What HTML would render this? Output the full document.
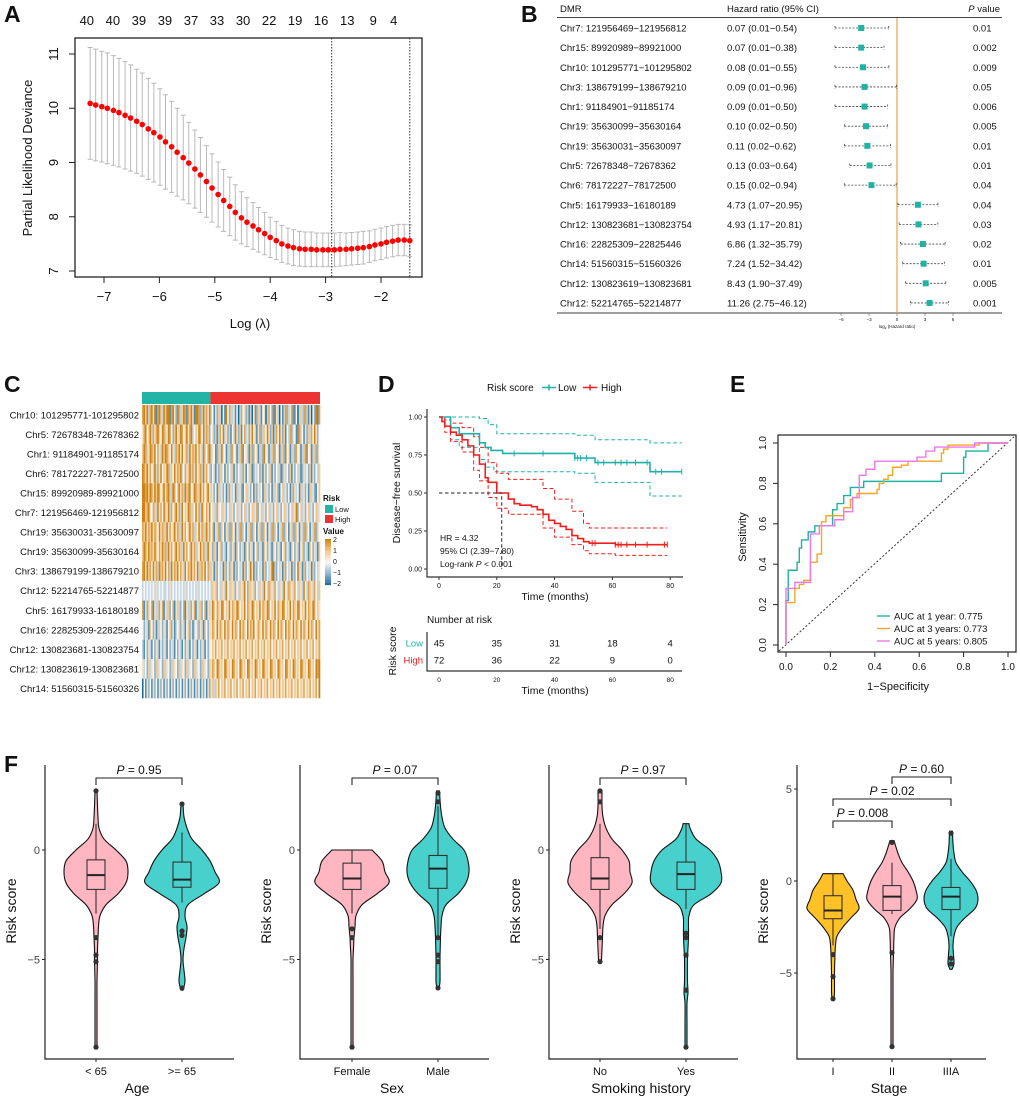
<!DOCTYPE html>
<html><head><meta charset="utf-8"><title>Figure</title>
<style>
html,body{margin:0;padding:0;background:#fff;}
svg{display:block;font-family:"Liberation Sans",Arial,sans-serif;}
text{fill:#111;}
</style></head>
<body>
<svg id="fig" xmlns="http://www.w3.org/2000/svg" width="1020" height="1100" viewBox="0 0 1020 1100">
<rect x="0" y="0" width="1020" height="1100" fill="#fff"/>
<g font-weight="bold" font-size="23">
<text x="4" y="22">A</text>
<text x="521" y="22">B</text>
<text x="4" y="392">C</text>
<text x="378" y="392">D</text>
<text x="730" y="392">E</text>
<text x="4" y="772">F</text>
</g>
<g id="pA"></g>
<g id="pB"></g>
<g id="pC"></g>
<g id="pD"></g>
<g id="pE"></g>
<g id="pF"></g>
</svg>
<script>
// ---------- Panel A data ----------
const aLambda=[-7.25,-7.15,-7.04,-6.94,-6.83,-6.73,-6.62,-6.52,-6.41,-6.31,-6.20,-6.10,-5.99,-5.89,-5.78,-5.68,-5.57,-5.47,-5.36,-5.26,-5.15,-5.05,-4.94,-4.84,-4.73,-4.63,-4.52,-4.42,-4.31,-4.21,-4.10,-4.00,-3.89,-3.79,-3.68,-3.58,-3.47,-3.37,-3.26,-3.16,-3.05,-2.95,-2.84,-2.74,-2.63,-2.53,-2.42,-2.32,-2.21,-2.11,-2.00,-1.90,-1.79,-1.69,-1.58,-1.48];
const aDev=[10.09,10.06,10.03,10.00,9.96,9.92,9.87,9.82,9.76,9.70,9.62,9.55,9.47,9.38,9.29,9.19,9.09,8.99,8.88,8.77,8.65,8.53,8.41,8.30,8.19,8.08,7.98,7.90,7.83,7.76,7.69,7.62,7.56,7.50,7.46,7.43,7.41,7.40,7.40,7.39,7.39,7.39,7.39,7.40,7.40,7.41,7.42,7.43,7.45,7.48,7.50,7.53,7.55,7.57,7.57,7.56];
const aSE=[1.03,1.03,1.02,1.02,1.01,1.00,0.99,0.98,0.96,0.95,0.93,0.91,0.89,0.87,0.84,0.81,0.78,0.75,0.72,0.69,0.66,0.63,0.60,0.57,0.54,0.51,0.48,0.45,0.43,0.41,0.39,0.37,0.35,0.34,0.33,0.33,0.32,0.32,0.32,0.31,0.31,0.31,0.31,0.31,0.30,0.30,0.30,0.30,0.29,0.29,0.29,0.29,0.29,0.29,0.29,0.29];
const aTopN=[40,40,39,39,37,33,30,22,19,16,13,9,4];
const aTopLambda=[-7.31,-6.84,-6.37,-5.90,-5.43,-4.96,-4.49,-4.02,-3.55,-3.08,-2.61,-2.14,-1.77];
const aXTicks=[-7,-6,-5,-4,-3,-2];
const aYTicks=[7,8,9,10,11];
const aCutoffs=[-2.89,-1.48];
// ---------- Panel B data ----------
const bDMR=["Chr7: 121956469\u2212121956812","Chr15: 89920989\u221289921000","Chr10: 101295771\u2212101295802","Chr3: 138679199\u2212138679210","Chr1: 91184901\u221291185174","Chr19: 35630099\u221235630164","Chr19: 35630031\u221235630097","Chr5: 72678348\u221272678362","Chr6: 78172227\u221278172500","Chr5: 16179933\u221216180189","Chr12: 130823681\u2212130823754","Chr16: 22825309\u221222825446","Chr14: 51560315\u221251560326","Chr12: 130823619\u2212130823681","Chr12: 52214765\u221252214877"];
const bHR=[0.07,0.07,0.08,0.09,0.09,0.10,0.11,0.13,0.15,4.73,4.93,6.86,7.24,8.43,11.26];
const bLo=[0.01,0.01,0.01,0.01,0.01,0.02,0.02,0.03,0.02,1.07,1.17,1.32,1.52,1.90,2.75];
const bHi=[0.54,0.38,0.55,0.96,0.50,0.50,0.62,0.64,0.94,20.95,20.81,35.79,34.42,37.49,46.12];
const bP=["0.01","0.002","0.009","0.05","0.006","0.005","0.01","0.01","0.04","0.04","0.03","0.02","0.01","0.005","0.001"];
const bTicks=[-6,-3,0,3,6];
// ---------- Panel C data ----------
const cRows=["Chr10: 101295771-101295802","Chr5: 72678348-72678362","Chr1: 91184901-91185174","Chr6: 78172227-78172500","Chr15: 89920989-89921000","Chr7: 121956469-121956812","Chr19: 35630031-35630097","Chr19: 35630099-35630164","Chr3: 138679199-138679210","Chr12: 52214765-52214877","Chr5: 16179933-16180189","Chr16: 22825309-22825446","Chr12: 130823681-130823754","Chr12: 130823619-130823681","Chr14: 51560315-51560326"];
const cGroupCounts=[45,72];
const cGroupNames=["Low","High"];
const cValues=[
"786837858178638 688178528736871 768518872683758 341526304184263 514037452613048 263145037428153 041627352814036 372615042817",
"578468375786487 358742685387468 578346587483762 452613748352614 385261473525846 152736485261374 852614372541826 415263748524",
"687358768475386 876485376858467 385768475386478 354126385413627 451362845316274 513628451362745 136284513627451 362845136274",
"876857468375846 587364857683475 683758467385746 243152634152436 152436251436125 342615243615243 612534261524361 253426152436",
"887868758687468 578368746857386 784587368574685 352416352416253 416352146352416 253416352416352 146352416253416 352416352146",
"886785476385748 658374685738465 873648573864758 453625463524635 246352463524635 724635246352463 524635246358246 352463524635",
"768576857648576 385746857638574 685736485763857 461537264153726 415372641537264 153726415372641 537264153726415 372641537264",
"687586758647586 738574685763857 468573648576385 526314625314625 316425316425314 625316425316425 314625316425314 625316425316",
"785867485738675 847385768475384 768574836758476 351624351624735 162435162438516 243516243581624 351624351624835 162435162435",
"343434343534343 343534343434353 434343534343434 365374365384365 374365384736537 436538437653743 653843765374365 384376537436",
"715264715362471 536247153624715 362471536247153 586476587465847 658746584765874 658476587465847 658746584765874 658476587465",
"425316425136425 314625134625314 625134625316425 576485764857648 576485764857684 576485764857648 576485764857648 576485764857",
"314253142531425 314253142531425 314253142531425 465746574657465 746574657465746 574657465746574 657465746574657 465746574657",
"534263542635426 354263542635426 354263542635426 576487564875648 756487564875648 756487564875648 756487564875648 756487564878",
"041524152415241 524152415241524 152415241524152 563657465746574 657465746574657 465746574657465 746574657465746 574657465748"];
const cLegendTicks=[2,1,0,-1,-2];
// ---------- Panel D data ----------
const dLowT=[0,4,7,14,16,18,22,47,54,73], dLowS=[1,0.93,0.89,0.83,0.80,0.78,0.76,0.73,0.70,0.64];
const dLowUpT=[0,14,17,20,47,54,73], dLowUpS=[1,0.99,0.95,0.89,0.88,0.85,0.83];
const dLowLoT=[0,4,7,14,16,19,47,54,73], dLowLoS=[1,0.85,0.80,0.72,0.67,0.64,0.63,0.57,0.48];
const dLowEnd=84;
const dHighT=[0,1,2,4,6,8,10,12,14,16,17,20,24,26,28,32,34,36,38,40,42,44,46,48,50,52,61];
const dHighS=[1,0.97,0.94,0.90,0.88,0.85,0.81,0.75,0.69,0.60,0.57,0.50,0.46,0.43,0.42,0.41,0.39,0.36,0.32,0.30,0.28,0.26,0.22,0.20,0.18,0.17,0.16];
const dHighUpT=[0,2,4,8,12,14,17,20,24,36,40,46,50,52], dHighUpS=[1,0.98,0.96,0.93,0.87,0.80,0.70,0.63,0.59,0.53,0.46,0.38,0.30,0.27];
const dHighLoT=[0,2,4,8,12,14,17,20,24,36,40,46,50,52,61], dHighLoS=[1,0.90,0.84,0.77,0.65,0.58,0.47,0.40,0.36,0.27,0.21,0.16,0.12,0.10,0.09];
const dHighEnd=79;
const dLowCens=[26,36,47,48,49,51,55,57,61,63,65,68,72,75,77,84];
const dHighCens=[53,54,61,62,63,65,68,72,78,79];
const dMedian=21.7;
const dXTicks=[0,20,40,60,80];
const dYTicks=[0,0.25,0.5,0.75,1];
const dRiskLow=[45,35,31,18,4];
const dRiskHigh=[72,36,22,9,0];
// ---------- Panel E data ----------
const eTealX=[0,0,0.01,0.01,0.05,0.05,0.06,0.06,0.07,0.07,0.10,0.10,0.13,0.13,0.21,0.21,0.23,0.23,0.26,0.26,0.29,0.29,0.35,0.35,0.70,0.70,0.80,0.80,0.81,0.81,0.91,0.91,1];
const eTealY=[0,0.22,0.22,0.37,0.37,0.41,0.41,0.48,0.48,0.52,0.52,0.56,0.56,0.59,0.59,0.67,0.67,0.70,0.70,0.74,0.74,0.78,0.78,0.81,0.81,0.85,0.85,0.93,0.93,0.96,0.96,1,1];
const eOrX=[0,0,0.04,0.04,0.06,0.06,0.08,0.08,0.11,0.11,0.14,0.14,0.16,0.16,0.18,0.18,0.26,0.26,0.29,0.29,0.30,0.30,0.32,0.32,0.41,0.41,0.42,0.42,0.44,0.44,0.46,0.46,0.48,0.48,0.52,0.52,0.55,0.55,0.70,0.70,0.71,0.71,0.73,0.73,0.87,0.87,1];
const eOrY=[0,0.21,0.21,0.28,0.28,0.30,0.30,0.32,0.32,0.41,0.41,0.45,0.45,0.61,0.61,0.64,0.64,0.68,0.68,0.72,0.72,0.73,0.73,0.75,0.75,0.77,0.77,0.80,0.80,0.82,0.82,0.84,0.84,0.88,0.88,0.89,0.89,0.91,0.91,0.95,0.95,0.97,0.97,0.99,0.99,1,1];
const ePkX=[0,0,0.04,0.04,0.11,0.11,0.15,0.15,0.22,0.22,0.26,0.26,0.30,0.30,0.33,0.33,0.36,0.36,0.40,0.40,0.59,0.59,0.63,0.63,0.67,0.67,0.85,0.85,1];
const ePkY=[0,0.28,0.28,0.31,0.31,0.55,0.55,0.59,0.59,0.62,0.62,0.66,0.66,0.73,0.73,0.84,0.84,0.87,0.87,0.91,0.91,0.93,0.93,0.96,0.96,0.98,0.98,1,1];
const eLegend=["AUC at 1 year: 0.775","AUC at 3 years: 0.773","AUC at 5 years: 0.805"];
const eTicks=[0,0.2,0.4,0.6,0.8,1.0];
// ---------- Panel F data (densities: [value, half-width]) ----------
const fDensLt65=[[2.7,1],[2,1.5],[1.5,2],[1,3],[0.5,8],[0,20],[-0.5,30],[-1,32],[-1.5,30],[-2,22],[-2.5,10],[-3,4],[-3.5,2.5],[-4,2],[-4.5,1.5],[-5,1.5],[-6,1],[-7,1],[-8,1],[-9,1]];
const fDensGe65=[[2.1,1],[1.5,2],[1,5],[0.5,10],[0,20],[-0.5,28],[-1,33],[-1.5,37],[-2,22],[-2.5,6],[-3,3],[-3.5,5],[-4,4],[-4.5,2],[-5,1],[-5.5,2],[-6,3],[-6.4,1]];
const fDensFemale=[[0,20],[-0.5,30],[-1,33],[-1.5,37],[-2,25],[-2.5,10],[-3,4],[-3.5,3],[-4,2],[-4.5,1.5],[-5,1],[-6,1],[-7,1],[-8,1],[-9,1]];
const fDensMale=[[2.7,1.5],[2,2.5],[1.5,4],[1,7],[0.5,15],[0,26],[-0.5,30],[-1,31],[-1.5,28],[-2,20],[-2.5,8],[-3,4],[-3.5,3],[-4,2.5],[-5,2],[-6,2],[-6.3,1]];
const fDensNo=[[2.7,2],[2,2],[1.5,3],[1,6],[0.5,12],[0,22],[-0.5,29],[-1,30],[-1.5,32],[-2,24],[-2.5,12],[-3,5],[-3.5,3],[-4,2.5],[-4.5,2],[-5,1.5],[-5.1,1]];
const fDensYes=[[1.2,3],[1,4],[0.5,10],[0,24],[-0.5,32],[-1,35],[-1.5,35],[-2,25],[-2.5,8],[-3,3],[-3.5,2.5],[-4,2.5],[-5,1.5],[-6,1.5],[-6.5,2],[-7,1],[-8,1],[-9,1]];
const fDensI=[[0.4,10],[0,14],[-0.5,20],[-1,23],[-1.5,26],[-2,18],[-2.5,10],[-3,4],[-3.5,2.5],[-4,2],[-5,1.5],[-6,1.5],[-6.4,1]];
const fDensII=[[2.2,2],[1.5,6],[1,10],[0.5,16],[0,21],[-0.5,24],[-1,25],[-1.5,18],[-2,8],[-2.5,3],[-3,2],[-4,1.5],[-5,1],[-7,1],[-9,1]];
const fDensIIIA=[[2.7,1.5],[2,2],[1.5,3],[1,5],[0.5,11],[0,19],[-0.5,25],[-1,27],[-1.5,24],[-2,14],[-2.5,6],[-3,3],[-3.5,2],[-4,2.5],[-4.5,3],[-4.8,1]];
// box stats: [whiskerLow, q1, median, q3, whiskerHigh]
const fBoxLt65=[-2.9,-1.8,-1.15,-0.45,1.2], fOutLt65=[2.7,-4,-4.8,-5.1,-9];
const fBoxGe65=[-2.4,-1.7,-1.35,-0.55,0.8], fOutGe65=[2.1,-3.7,-3.9,-6.3];
const fBoxFemale=[-2.9,-1.8,-1.3,-0.6,0], fOutFemale=[-3.6,-4,-9];
const fBoxMale=[-3.9,-1.75,-0.85,-0.25,2.0], fOutMale=[2.6,2.2,-4,-4.8,-5.1,-6.3];
const fBoxNo=[-3.6,-1.8,-1.3,-0.35,1.2], fOutNo=[2.7,2.2,-4,-5.1];
const fBoxYes=[-2.7,-1.8,-1.1,-0.55,1.2], fOutYes=[-3.8,-4,-4.8,-6.4,-9];
const fBoxI=[-3.5,-2.05,-1.6,-0.8,0.4], fOutI=[-4,-5.2,-6.4];
const fBoxII=[-1.8,-1.6,-0.85,-0.25,1.0], fOutII=[2.1,-3.9,-9];
const fBoxIIIA=[-3,-1.55,-0.85,-0.35,1.2], fOutIIIA=[2.6,-4.2,-4.5];
const fTitles=["Age","Sex","Smoking history","Stage"];
const fCats=[["< 65",">= 65"],["Female","Male"],["No","Yes"],["I","II","IIIA"]];
const fPvals=[["0.95"],["0.07"],["0.97"],["0.008","0.02","0.60"]];

// ---------- helpers ----------
const NS='http://www.w3.org/2000/svg';
function mk(tag,attrs,parent){const e=document.createElementNS(NS,tag);for(const k in attrs)e.setAttribute(k,attrs[k]);parent.appendChild(e);return e;}
function tx(s,x,y,size,anchor,parent,extra){const e=mk('text',Object.assign({x:x,y:y,'font-size':size,'text-anchor':anchor||'start'},extra||{}),parent);e.textContent=s;return e;}
function stepPath(xs,ys,xf,yf,end){let d='M'+xf(xs[0])+','+yf(ys[0]);for(let i=1;i<xs.length;i++){d+='H'+xf(xs[i])+'V'+yf(ys[i]);}d+='H'+xf(end);return d;}

// ================= Panel A =================
(function(){
const g=document.getElementById('pA');
const xA=v=>104+(v+7)*55.4, yA=v=>271-(v-7)*54.25;
const box=mk('rect',{x:75,y:38,width:347,height:239,fill:'none',stroke:'#222','stroke-width':1.3},g);


aXTicks.forEach(v=>{
 const l=mk('line',{x1:xA(v),x2:xA(v),y1:277,y2:283,stroke:'#222'},g);
 
 
 const t=tx(String(v).replace('-','\u2212'),xA(v),301,13,'middle',g);
 
 
});
aYTicks.forEach(v=>{
 const l=mk('line',{x1:69,x2:75,y1:yA(v),y2:yA(v),stroke:'#222'},g);
 
 
 const t=tx(String(v),58,yA(v),13,'middle',g,{transform:'rotate(-90 58 '+yA(v)+')'});
 
 
});
aTopN.forEach((n,i)=>{
 const t=tx(String(n),xA(aTopLambda[i]),25,13,'middle',g);
 
 
});
const yl=tx('Partial Likelihood Deviance',32,158,13,'middle',g,{transform:'rotate(-90 32 158)'});


const xl=tx('Log (\u03bb)',250,328,13,'middle',g);


aLambda.forEach((lam,i)=>{
 const x=xA(lam),hi=yA(aDev[i]+aSE[i]),lo=yA(aDev[i]-aSE[i]);
 const e=mk('path',{d:'M'+x+','+hi+'V'+lo+'M'+(x-2.5)+','+hi+'H'+(x+2.5)+'M'+(x-2.5)+','+lo+'H'+(x+2.5),stroke:'#b9b9b9','stroke-width':1,fill:'none'},g);
 
 
});
aCutoffs.forEach(v=>{
 const l=mk('line',{x1:xA(v),x2:xA(v),y1:38,y2:277,stroke:'#333','stroke-dasharray':'1.5 1.5','stroke-width':1},g);
 
 
});
aLambda.forEach((lam,i)=>{
 const c=mk('circle',{cx:xA(lam),cy:yA(aDev[i]),r:2.8,fill:'#f00'},g);
 
 
});
})();

// ================= Panel B =================
(function(){
const g=document.getElementById('pB');
const xB=v=>897+Math.log2(v)*9.33, xL=v=>897+v*9.33;
const rowY=i=>28+i*19.64;
const h1=tx('DMR',560,12,9.5,'start',g);


const h2=tx('Hazard ratio (95% CI)',727,12,9.5,'start',g);


const h3=mk('text',{x:1000,y:12,'font-size':9.5,'text-anchor':'end'},g);
h3.innerHTML='<tspan font-style="italic">P</tspan> value';


const l1=mk('line',{x1:557,x2:1002,y1:17.5,y2:17.5,stroke:'#444','stroke-width':1},g);


const l2=mk('line',{x1:557,x2:1002,y1:313,y2:313,stroke:'#666','stroke-width':1.2},g);


const ref=mk('line',{x1:897,x2:897,y1:18,y2:313,stroke:'#E6A83C','stroke-width':1.2},g);


bDMR.forEach((lab,i)=>{
 const y=rowY(i);
 const a=tx(lab,560,y+3.5,9.5,'start',g);
 
 
 const b=tx(bHR[i].toFixed(2)+' ('+bLo[i].toFixed(2)+'\u2212'+bHi[i].toFixed(2)+')',727,y+3.5,9.5,'start',g);
 
 
 const c=tx(bP[i],973,y+3.5,9.5,'start',g);
 
 
 const ci=mk('path',{d:'M'+xB(bLo[i])+','+y+'H'+xB(bHi[i])+'M'+xB(bLo[i])+','+(y-2)+'V'+(y+2)+'M'+xB(bHi[i])+','+(y-2)+'V'+(y+2),stroke:'#444','stroke-width':0.8,'stroke-dasharray':'2 1.5',fill:'none'},g);
 
 
 const sq=mk('rect',{x:xB(bHR[i])-3,y:y-3,width:6,height:6,fill:'#22B2A4'},g);
 
 
});
bTicks.forEach(v=>{
 const l=mk('line',{x1:xL(v),x2:xL(v),y1:313,y2:316,stroke:'#666','stroke-width':0.6},g);
 
 
 const t=tx(String(v).replace('-','\u2212'),xL(v),321,4.5,'middle',g);
 
 
});
const at=mk('text',{x:897,y:328,'font-size':4.5,'text-anchor':'middle'},g);
at.innerHTML='log<tspan font-size="3" dy="1">2</tspan><tspan dy="-1"> (Hazard ratio)</tspan>';


})();

// ================= Panel C =================
(function(){
const g=document.getElementById('pC');
const x0=142,x1=320,y0=405,rowH=19.55;
const total=cGroupCounts[0]+cGroupCounts[1];
const cw=(x1-x0)/total;
const cols=['#22B5A5','#EE3333'];
let start=0;
cGroupCounts.forEach((n,gi)=>{
 const r=mk('rect',{x:x0+start*cw,y:392,width:n*cw,height:12,fill:cols[gi]},g);
 
 
 start+=n;
});
function colorOf(v){ // v in -2..2
 const stops=[[-2,[24,104,148]],[-1,[140,178,204]],[0,[248,248,248]],[1,[244,200,140]],[2,[204,130,20]]];
 for(let i=0;i<stops.length-1;i++){
  if(v<=stops[i+1][0]){const t=(v-stops[i][0])/(stops[i+1][0]-stops[i][0]);const a=stops[i][1],b=stops[i+1][1];
   return 'rgb('+a.map((c,k)=>Math.round(c+(b[k]-c)*t)).join(',')+')';}
 }
 return 'rgb(204,130,20)';
}
cValues.forEach((str,ri)=>{
 const s=str.replace(/ /g,'');
 const w=(x1-x0)/s.length;
 const y=y0+ri*rowH;
 for(let j=0;j<s.length;j++){
  const v=(parseInt(s[j])-4)/2;
  const r=mk('rect',{x:x0+j*w,y:y,width:w+0.3,height:rowH,fill:colorOf(v)},g);
  
  
 }
 const t=tx(cRows[ri],139,y+rowH/2+3.5,9.5,'end',g);
 
 
});
const lt=tx('Risk',323,501,8,'start',g,{'font-weight':'bold'});


cGroupNames.forEach((nm,i)=>{
 const r=mk('rect',{x:325,y:505+i*10,width:8,height:8,fill:cols[i]},g);
 
 
 const t=tx(nm,335,512+i*10,7.5,'start',g);
 
 
});
const vt=tx('Value',323,534,8,'start',g,{'font-weight':'bold'});


for(let k=0;k<40;k++){
 const v=2-k*0.1;
 const r=mk('rect',{x:325,y:539+k*1.15,width:6,height:1.3,fill:colorOf(v)},g);
 
 
}
cLegendTicks.forEach((v,i)=>{
 const t=tx(String(v).replace('-','\u2212'),333,542+i*11,7,'start',g);
 
 
});
})();

// ================= Panel D =================
(function(){
const g=document.getElementById('pD');
const xD=t=>439+t*2.89, yD=s=>569-s*152;
const teal='#20B2AA', red='#F01E1E';
const lg=tx('Risk score',487,391,10,'start',g);


[[542,teal,'Low',558],[583,red,'High',601]].forEach(a=>{
 const p=mk('path',{d:'M'+a[0]+',387.5H'+(a[0]+14)+'M'+(a[0]+7)+',384.5V390.5',stroke:a[1],'stroke-width':1.5},g);
 
 
 const t=tx(a[2],a[3],391,10,'start',g);
 
 
});
const ax=mk('path',{d:'M427,409V577H683',stroke:'#333','stroke-width':1.2,fill:'none'},g);


dXTicks.forEach(v=>{
 const l=mk('line',{x1:xD(v),x2:xD(v),y1:577,y2:580,stroke:'#333'},g);
 
 
 const t=tx(String(v),xD(v),588,7,'middle',g);
 
 
});
dYTicks.forEach(v=>{
 const l=mk('line',{x1:424,x2:427,y1:yD(v),y2:yD(v),stroke:'#333'},g);
 
 
 const t=tx(v.toFixed(2),422,yD(v)+2.5,7,'end',g);
 
 
});
const xt=tx('Time (months)',555,600,10.5,'middle',g);


const yt=tx('Disease\u2212free survival',400,493,10.5,'middle',g,{transform:'rotate(-90 400 493)'});


const curves=[
 [dLowUpT,dLowUpS,dLowEnd,teal,'4 2.5',1,'low-ci-upper'],[dLowLoT,dLowLoS,dLowEnd,teal,'4 2.5',1,'low-ci-lower'],
 [dHighUpT,dHighUpS,dHighEnd,red,'4 2.5',1,'high-ci-upper'],[dHighLoT,dHighLoS,dHighEnd,red,'4 2.5',1,'high-ci-lower'],
 [dLowT,dLowS,dLowEnd,teal,'',1.6,'low-survival-curve'],[dHighT,dHighS,dHighEnd,red,'',1.6,'high-survival-curve']];
curves.forEach(c=>{
 const p=mk('path',{d:stepPath(c[0],c[1],xD,yD,c[2]),stroke:c[3],'stroke-width':c[5],fill:'none','stroke-dasharray':c[4]||'none'},g);
 
 
});
function survAt(T,S,t){let s=S[0];for(let i=0;i<T.length;i++){if(T[i]<=t)s=S[i];}return s;}
[[dLowCens,dLowT,dLowS,teal],[dHighCens,dHighT,dHighS,red]].forEach(a=>{
 a[0].forEach(t=>{
  const y=yD(survAt(a[1],a[2],t));
  const p=mk('path',{d:'M'+xD(t)+','+(y-3)+'V'+(y+3),stroke:a[3],'stroke-width':1},g);
  
  
 });
});
const md=mk('path',{d:'M'+xD(0)+','+yD(0.5)+'H'+xD(dMedian)+'V'+yD(0),stroke:'#222','stroke-width':1,'stroke-dasharray':'3.5 2.5',fill:'none'},g);


const s1=tx('HR = 4.32',440,541,8.5,'start',g);


const s2=tx('95% CI (2.39\u22127.80)',440,554,8.5,'start',g);


const s3=mk('text',{x:440,y:567,'font-size':8.5},g);
s3.innerHTML='Log-rank <tspan font-style="italic">P</tspan> &lt; 0.001';


// risk table
const nr=tx('Number at risk',427,623,10,'start',g);


const ta=mk('path',{d:'M427,632V671H682',stroke:'#333','stroke-width':1.2,fill:'none'},g);


[[dRiskLow,'Low',teal,643],[dRiskHigh,'High',red,660]].forEach(r=>{
 const lb=tx(r[1],423,r[3]+3.5,9.5,'end',g,{style:'fill:'+r[2]});
 
 
 r[0].forEach((n,i)=>{
  const t=tx(String(n),xD(dXTicks[i]),r[3]+3.5,9.5,'middle',g);
  
  
 });
});
dXTicks.forEach(v=>{
 const t=tx(String(v),xD(v),682,6.5,'middle',g);
 
 
});
const t2=tx('Time (months)',555,694,10.5,'middle',g);


const rs=tx('Risk score',396,651,10.5,'middle',g,{transform:'rotate(-90 396 651)'});


})();

// ================= Panel E =================
(function(){
const g=document.getElementById('pE');
const xE=v=>786+v*222, yE=v=>645-v*202;
const fr=mk('rect',{x:778,y:435,width:238,height:217,fill:'none',stroke:'#222','stroke-width':1.2},g);


eTicks.forEach(v=>{
 const l=mk('line',{x1:xE(v),x2:xE(v),y1:652,y2:657,stroke:'#222'},g);
 
 
 const t=tx(v.toFixed(1),xE(v),670,10,'middle',g);
 
 
 const l2=mk('line',{x1:773,x2:778,y1:yE(v),y2:yE(v),stroke:'#222'},g);
 
 
 const t2=tx(v.toFixed(1),766,yE(v),10,'middle',g,{transform:'rotate(-90 766 '+yE(v)+')'});
 
 
});
const xt=tx('1\u2212Specificity',898,690,11,'middle',g);


const yt=tx('Sensitivity',746,537,11,'middle',g,{transform:'rotate(-90 746 537)'});


const dg=mk('line',{x1:779,y1:651,x2:1015,y2:436,stroke:'#333','stroke-dasharray':'2 2','stroke-width':1},g);


const cols=['#20B2A0','#F5A623','#EE77EE'];
[[eTealX,eTealY,'roc-1-year'],[eOrX,eOrY,'roc-3-years'],[ePkX,ePkY,'roc-5-years']].forEach((c,i)=>{
 const d=c[0].map((x,k)=>(k?'L':'M')+xE(x)+','+yE(c[1][k])).join('');
 const p=mk('path',{d:d,stroke:cols[i],'stroke-width':1.4,fill:'none'},g);
 
 
});
eLegend.forEach((s,i)=>{
 const y=616+i*12.5;
 const l=mk('line',{x1:877,x2:890,y1:y,y2:y,stroke:cols[i],'stroke-width':1.4},g);
 
 
 const t=tx(s,894,y+3.5,9.5,'start',g);
 
 
});
})();

// ================= Panel F =================
(function(){
const g=document.getElementById('pF');
const pink='#FFB6C1', teal='#48D1CC', yel='#FFC125';
const y13=v=>850-v*21.9, y4=v=>881-v*18.4;
const panels=[
 {ax:45,yf:y13,ticks:[0,-5],cx:[96,182],dens:[fDensLt65,fDensGe65],box:[fBoxLt65,fBoxGe65],out:[fOutLt65,fOutGe65],fill:[pink,teal]},
 {ax:300,yf:y13,ticks:[0,-5],cx:[352,438],dens:[fDensFemale,fDensMale],box:[fBoxFemale,fBoxMale],out:[fOutFemale,fOutMale],fill:[pink,teal]},
 {ax:549,yf:y13,ticks:[0,-5],cx:[600,686],dens:[fDensNo,fDensYes],box:[fBoxNo,fBoxYes],out:[fOutNo,fOutYes],fill:[pink,teal]},
 {ax:797,yf:y4,ticks:[5,0,-5],cx:[833,892,951],dens:[fDensI,fDensII,fDensIIIA],box:[fBoxI,fBoxII,fBoxIIIA],out:[fOutI,fOutII,fOutIIIA],fill:[yel,pink,teal]}];
function smooth(pts){ // catmull-rom to bezier
 let d='M'+pts[0][0]+','+pts[0][1];
 for(let i=0;i<pts.length-1;i++){
  const p0=pts[i-1]||pts[i],p1=pts[i],p2=pts[i+1],p3=pts[i+2]||p2;
  const c1=[p1[0]+(p2[0]-p0[0])/6,p1[1]+(p2[1]-p0[1])/6],c2=[p2[0]-(p3[0]-p1[0])/6,p2[1]-(p3[1]-p1[1])/6];
  d+='C'+c1[0].toFixed(2)+','+c1[1].toFixed(2)+' '+c2[0].toFixed(2)+','+c2[1].toFixed(2)+' '+p2[0].toFixed(2)+','+p2[1].toFixed(2);
 }
 return d;
}
panels.forEach((P,pi)=>{
 const pg=mk('g',{},g);
 
 
 const ax=mk('path',{d:'M'+P.ax+',765V1059H'+(P.ax+189),stroke:'#222','stroke-width':1.2,fill:'none'},pg);
 
 
 P.ticks.forEach(v=>{
  const l=mk('line',{x1:P.ax-3,x2:P.ax,y1:P.yf(v),y2:P.yf(v),stroke:'#222'},pg);
  
  
  const t=tx(String(v).replace('-','\u2212'),P.ax-5,P.yf(v)+4,11,'end',pg,{style:'fill:#444'});
  
  
 });
 const yl=tx('Risk score',P.ax-29,911,14,'middle',pg,{transform:'rotate(-90 '+(P.ax-29)+' 911)'});
 
 
 const xl=tx(fTitles[pi],P.ax+92,1093,14,'middle',pg);
 
 
 P.cx.forEach((cx,ci)=>{
  const l=mk('line',{x1:cx,x2:cx,y1:1059,y2:1062,stroke:'#222'},pg);
  
  
  const t=tx(fCats[pi][ci],cx,1075,11,'middle',pg);
  
  
  const dn=P.dens[ci];
  const right=dn.map(p=>[cx+p[1],P.yf(p[0])]);
  const left=dn.slice().reverse().map(p=>[cx-p[1],P.yf(p[0])]);
  const top=P.yf(dn[0][0]),bot=P.yf(dn[dn.length-1][0]);
  const d=smooth(right)+'L'+cx+','+bot+'L'+left[0][0]+','+left[0][1]+smooth(left).replace(/^M[^C]*/,'')+'L'+cx+','+top+'Z';
  const v=mk('path',{d:'M'+cx+','+top+'L'+right[0][0]+','+right[0][1]+d.replace(/^M[^C]*/,''),fill:P.fill[ci],stroke:'#111','stroke-width':1.1},pg);
  
  
  const b=P.box[ci];
  const wk=mk('path',{d:'M'+cx+','+P.yf(b[0])+'V'+P.yf(b[1])+'M'+cx+','+P.yf(b[3])+'V'+P.yf(b[4]),stroke:'#333','stroke-width':1.1},pg);
  
  
  const bx=mk('rect',{x:cx-9,y:P.yf(b[3]),width:18,height:P.yf(b[1])-P.yf(b[3]),fill:'none',stroke:'#333','stroke-width':1.1},pg);
  
  
  const md=mk('line',{x1:cx-9,x2:cx+9,y1:P.yf(b[2]),y2:P.yf(b[2]),stroke:'#222','stroke-width':2},pg);
  
  
  P.out[ci].forEach(o=>{
   const c=mk('circle',{cx:cx,cy:P.yf(o),r:2.6,fill:'#333'},pg);
   
   
  });
 });
 // significance brackets
 const pairs=pi<3?[[0,1,778]]:[[0,1,821],[0,2,799],[1,2,777]];
 pairs.forEach((pr,k)=>{
  const x1=P.cx[pr[0]],x2=P.cx[pr[1]],y=pr[2];
  const br=mk('path',{d:'M'+x1+','+(y+7)+'V'+y+'H'+x2+'V'+(y+7),stroke:'#222','stroke-width':1.1,fill:'none'},pg);
  
  
  const t=mk('text',{x:(x1+x2)/2,y:y-4,'font-size':12,'text-anchor':'middle'},pg);
  t.innerHTML='<tspan font-style="italic">P</tspan> = '+fPvals[pi][k];
  
  
 });
});
})();
</script>
</body></html>
